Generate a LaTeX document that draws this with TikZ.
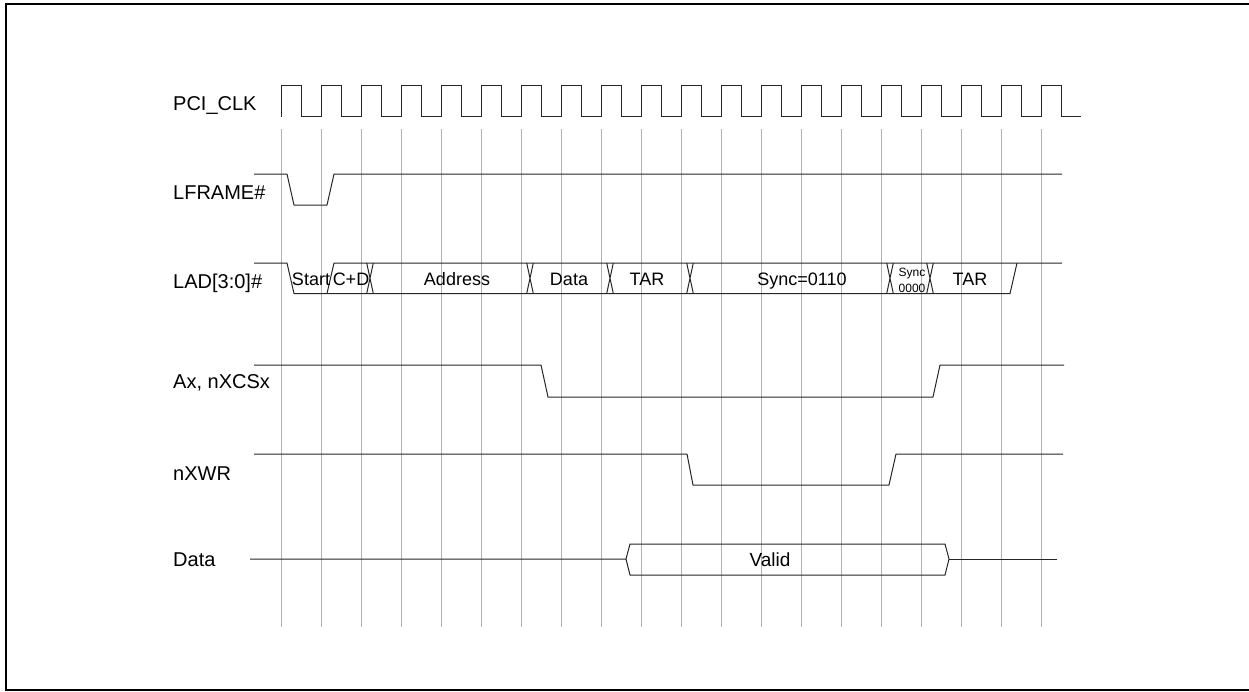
\documentclass[tikz,border=0pt]{standalone}
\usepackage{fontspec}
\setmainfont{Liberation Sans}
\begin{document}
\begin{tikzpicture}[
    x=1pt, y=-1pt,
    sig/.style={draw=black!85, line width=1pt},
    gridline/.style={draw=black!30, line width=1pt},
    lbl/.style={anchor=base west, inner sep=0pt, font=\fontsize{20}{24}\selectfont},
    bustxt/.style={anchor=base, inner sep=0pt, font=\fontsize{18}{22}\selectfont},
    smalltxt/.style={anchor=base, inner sep=0pt, font=\fontsize{12}{14}\selectfont}
    ]
    \useasboundingbox (0,0) rectangle (1249,691);
    \draw[line width=2pt] (5.7,4) rectangle (1252,690);
    % clock grid
    \foreach \k in {0,...,19}
      \draw[gridline] (281+40*\k,129) -- (281+40*\k,627);
    % signal names
    \node[lbl] (clk) at (173,110) {PCI\_CLK};
    \node[lbl] (frame) at (173,199) {LFRAME\#};
    \node[lbl] (lad) at (173,288) {LAD[3:0]\#};
    \node[lbl] (ax) at (173,388) {Ax, nXCSx};
    \node[lbl] (wr) at (173,480) {nXWR};
    \node[lbl] (data) at (173,566) {Data};
    % PCI_CLK
    \draw[sig] (281,116.7) \foreach \k in {0,...,19} {
      -- ++(0,-31.7) -- ++(20,0) -- ++(0,31.7) -- ++(20,0)};
    % LFRAME#
    \draw[sig] (254,174) -- (287,174) -- (294,205) -- (327,205) -- (334,174) -- (1062,174);
    % LAD[3:0]#
    \draw[sig] (254,263) -- (287,263) -- (294,293.5) -- (1010,293.5) -- (1017,263);
    \draw[sig] (327,293.5) -- (334,263) -- (1062,263);
    \foreach \c in {370,530,610,690,890,930}
      \draw[sig] (\c-3.3,263) -- (\c+3.3,293.5) (\c-3.3,293.5) -- (\c+3.3,263);
    \node[bustxt] (start) at (311,285) {Start};
    \node[bustxt] (cd) at (351,285) {C+D};
    \node[bustxt] (addr) at (457,285) {Address};
    \node[bustxt] (dat) at (569,285) {Data};
    \node[bustxt] (tar1) at (647,285) {TAR};
    \node[bustxt] (sync) at (802,285) {Sync=0110};
    \node[smalltxt] (synca) at (912,276) {Sync};
    \node[smalltxt] (syncb) at (912,292) {0000};
    \node[bustxt] (tar2) at (970,285) {TAR};
    % Ax, nXCSx
    \draw[sig] (254,365) -- (541,365) -- (548,397) -- (933,397) -- (940,365) -- (1064,365);
    % nXWR
    \draw[sig] (254,454) -- (687,454) -- (693,485) -- (889,485) -- (896,454) -- (1063,454);
    % Data
    \draw[sig] (250,559) -- (626,559) -- (630,544) -- (945,544) -- (949,559) -- (945,575) -- (630,575) -- (626,559);
    \draw[sig] (949,559) -- (1057,559);
    \node[anchor=base, inner sep=0pt, font=\fontsize{19}{23}\selectfont] (valid) at (770,566) {Valid};
\end{tikzpicture}
\end{document}
